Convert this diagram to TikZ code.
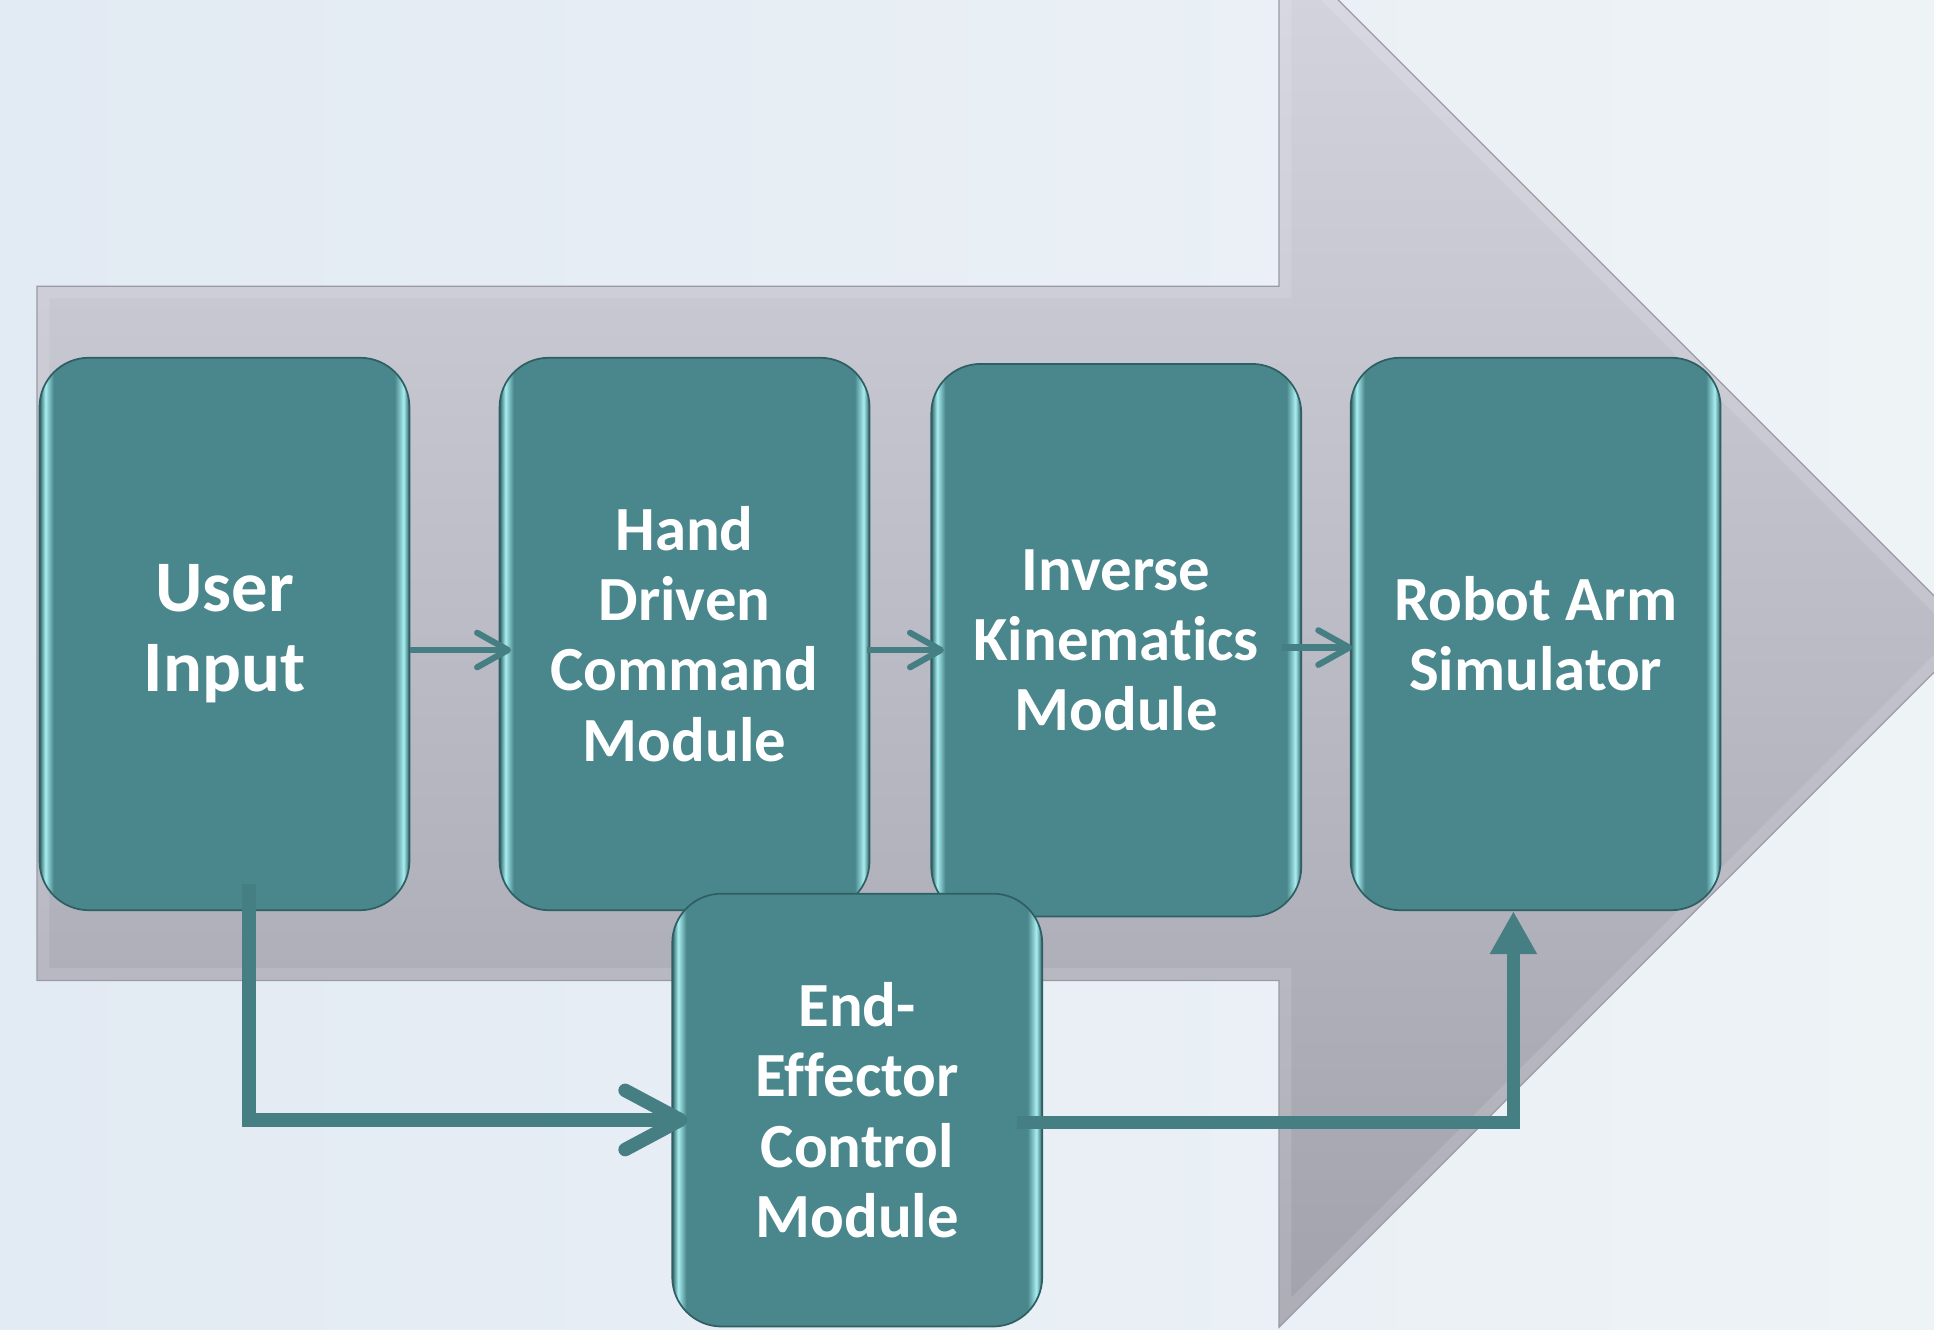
\documentclass[tikz,border=0pt]{standalone}
\usepackage{fontspec}
\setmainfont{Carlito}[Ligatures=NoCommon]
\usetikzlibrary{arrows.meta}

\definecolor{bgleft}{HTML}{E2EAF3}
\definecolor{bgright}{HTML}{EEF3F6}
\definecolor{arrowtop}{HTML}{D5D5E0}
\definecolor{arrowbot}{HTML}{A2A2AD}
\definecolor{arrowline}{HTML}{9A9AA6}
\definecolor{boxteal}{HTML}{4A878C}
\definecolor{boxline}{HTML}{2E5F63}
\definecolor{boxglow}{HTML}{A8EEF0}
\definecolor{linkteal}{HTML}{457F84}

% path box 25bp..75bp of the shading
\pgfdeclarehorizontalshading{tealbevel}{100bp}{color(0bp)=(boxline); color(25bp)=(boxline);
  color(25.8bp)=(boxglow); color(26.9bp)=(boxteal); color(73bp)=(boxteal);
  color(74.2bp)=(boxglow); color(75bp)=(boxline); color(100bp)=(boxline)}

\newcommand\flowoutline{(30,232) -- (1037,232) -- (1037,-48) -- (1599,514) -- (1037,1076) -- (1037,795) -- (30,795) -- cycle}

\begin{document}
\begin{tikzpicture}[x=0.02cm, y=-0.02cm,
    module/.style={shade, shading=tealbevel, draw=boxline, line width=0.8pt, rounded corners=0.8cm,
        minimum width=6cm, minimum height=8.96cm, inner sep=0pt, align=center, text=white,
        font=\bfseries\fontsize{29}{32.4}\selectfont},
    flow/.style={draw=linkteal, line width=0.1cm, -{Straight Barb[length=0.5cm, width=0.56cm, round]}},
    fatflow/.style={draw=linkteal, line width=0.22cm}]
    \useasboundingbox (0,0) rectangle (1568,1078);
    \clip (0,0) rectangle (1568,1078);
    \shade[left color=bgleft, right color=bgright] (0,0) rectangle (1568,1078);

    % big background arrow
    \shade[top color=arrowtop, bottom color=arrowbot] \flowoutline;
    \begin{scope}
        \clip \flowoutline;
        \draw[white, opacity=0.12, line width=0.4cm] \flowoutline;
    \end{scope}
    \draw[arrowline, line width=0.6pt] \flowoutline;

    % modules
    \node[module, font=\bfseries\fontsize{33.5}{37}\selectfont] (user) at (182,514) {User\\Input};
    \node[module] (hand) at (555,514) {Hand\\Driven\\Command\\Module};
    \node[module] (ik) at (905,519) {Inverse\\Kinematics\\Module};
    \node[module] (robot) at (1245,514) {Robot Arm\\Simulator};
    \node[module, minimum height=7.02cm] (ee) at (695,900) {End-\\Effector\\Control\\Module};

    % connectors
    \draw[flow] ([shift={(0,13)}]user.east) -- ([shift={(10,13)}]hand.west);
    \draw[flow] ([shift={(-3,13)}]hand.east) -- ([shift={(11,8)}]ik.west);
    \draw[flow] ([shift={(-16,6)}]ik.east) -- ([shift={(2,11)}]robot.west);
    \draw[fatflow, -{Straight Barb[length=0.9cm, width=0.96cm, round]}]
        ([shift={(20,-22)}]user.south) |- ([shift={(13,8)}]ee.west);
    \draw[fatflow, -{Triangle[length=0.7cm, width=0.72cm]}]
        ([shift={(-21,10)}]ee.east) -| ([shift={(-18,0)}]robot.south);
\end{tikzpicture}
\end{document}
